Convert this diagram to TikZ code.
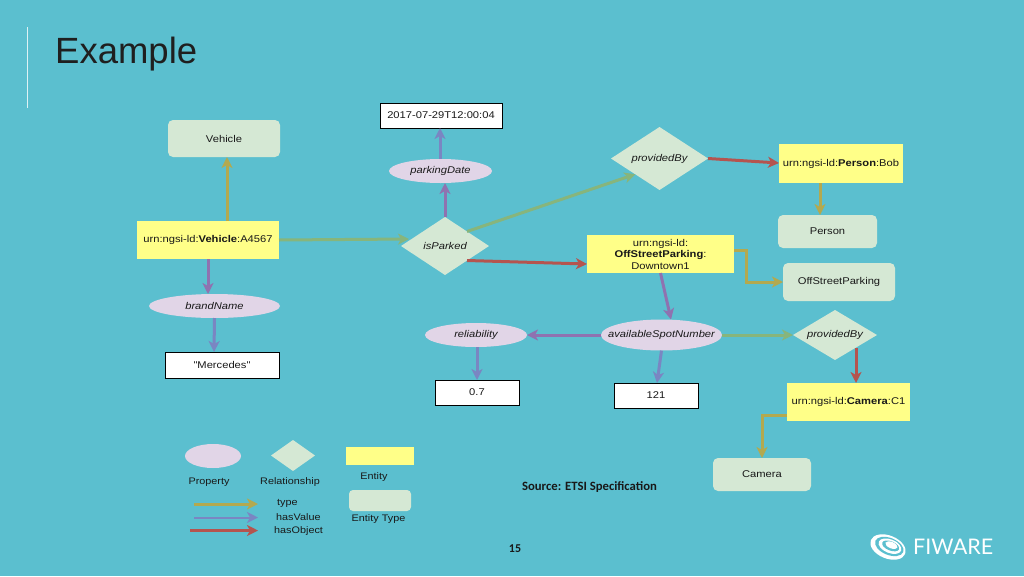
\documentclass[tikz,border=0pt]{standalone}
\usepackage{fontspec}
\setmainfont{Liberation Sans}
\newfontfamily\diag[FakeStretch=1.14]{Liberation Sans}
\newfontfamily\carl{Carlito}
\newfontfamily\logofont{Lato}
\usetikzlibrary{arrows.meta,shapes.geometric}
\definecolor{bg}{HTML}{5BBFCF}
\definecolor{typefill}{HTML}{D5E8D4}
\definecolor{entfill}{HTML}{FFFF88}
\definecolor{propfill}{HTML}{E1D5E7}
\definecolor{oliveline}{HTML}{B3A94F}
\definecolor{valline}{HTML}{7A86C2}
\definecolor{purpline}{HTML}{8F72B0}
\definecolor{redline}{HTML}{B5544F}
\definecolor{greenline}{HTML}{87B57C}
\tikzset{
 base/.style={inner sep=0pt,outer sep=0pt,align=center,font=\diag\fontsize{9.8}{11.5}\selectfont,text=black!90},
 entbox/.style={base,rectangle,fill=entfill},
 typebox/.style={base,rectangle,rounded corners=5pt,fill=typefill},
 valbox/.style={base,rectangle,fill=white,draw=black,line width=0.8pt},
 prop/.style={base,ellipse,fill=propfill,font=\diag\fontsize{9.8}{11.5}\selectfont\itshape},
 rel/.style={base,diamond,fill=typefill,aspect=1.5,font=\diag\fontsize{9.8}{11.5}\selectfont\itshape},
 conn/.style={line width=3pt,-{Stealth[length=11pt,width=11pt,inset=3pt]}},
 tyarr/.style={conn,draw=oliveline},
 valarr/.style={conn,draw=valline},
 purarr/.style={conn,draw=purpline},
 redarr/.style={conn,draw=redline},
 grnarr/.style={conn,draw=greenline},
 legend/.style={inner sep=0pt,font=\diag\fontsize{9.5}{11}\selectfont,text=black!90},
}
\begin{document}
\begin{tikzpicture}[x=1pt,y=-1pt]
\fill[bg] (0,0) rectangle (1024,576);
\useasboundingbox (0,0) rectangle (1024,576);
\draw[white!80!bg,line width=0.8pt] (27,27) -- (27,108);
\node[inner sep=0pt,anchor=base west,font=\fontsize{36.5}{40}\selectfont,text=black!88] (title) at (55,63) {Example};

% entity types
\node[typebox,minimum width=112pt,minimum height=37pt] (vehicle) at (224,138.5) {Vehicle};
\node[typebox,minimum width=99pt,minimum height=33pt] (persont) at (827.5,231.5) {Person};
\node[typebox,minimum width=112pt,minimum height=38pt] (offt) at (839,282) {OffStreetParking};
\node[typebox,minimum width=98pt,minimum height=33pt] (camt) at (762,474.5) {Camera};
% entities
\node[entbox,minimum width=142pt,minimum height=38pt] (veh) at (208,240) {urn:ngsi-ld:\textbf{Vehicle}:A4567};
\node[entbox,minimum width=124pt,minimum height=39pt] (person) at (841,163.5) {urn:ngsi-ld:\textbf{Person}:Bob};
\node[entbox,minimum width=147pt,minimum height=38pt] (off) at (660.5,254) {urn:ngsi-ld:\\\textbf{OffStreetParking}:\\Downtown1};
\node[entbox,minimum width=123pt,minimum height=38pt] (cam) at (848.5,402) {urn:ngsi-ld:\textbf{Camera}:C1};
% properties
\node[prop,minimum width=131pt,minimum height=24pt] (brand) at (214.5,306) {brandName};
\node[prop,minimum width=103pt,minimum height=24pt] (pdate) at (440.5,171) {parkingDate};
\node[prop,minimum width=121pt,minimum height=31pt] (spot) at (661.5,335) {\makebox[0pt]{availableSpotNumber}};
\node[prop,minimum width=102pt,minimum height=24pt] (relia) at (476,335) {reliability};
% relationships
\node[rel,minimum width=88pt,minimum height=58pt] (isp) at (445,246) {isParked};
\node[rel,minimum width=97pt,minimum height=63pt] (prov) at (659.5,158.5) {providedBy};
\node[rel,minimum width=84pt,minimum height=50pt] (provb) at (835,335) {providedBy};
% values
\node[valbox,minimum width=114pt,minimum height=26pt] (merc) at (222,365) {"Mercedes"};
\node[valbox,minimum width=122pt,minimum height=25pt] (date) at (441,115.5) {2017-07-29T12:00:04};
\node[valbox,minimum width=84pt,minimum height=25pt] (v07) at (477,392.5) {0.7};
\node[valbox,minimum width=84pt,minimum height=25pt] (v121) at (656,395.5) {121};

% connectors
\draw[tyarr] ([xshift=19pt]veh.north) -- ([xshift=3pt]vehicle.south);
\draw[purarr] (veh.south) -- ([xshift=-6.5pt]brand.north);
\draw[valarr] (brand.south) -- ([xshift=-8pt]merc.north);
\draw[grnarr] (veh.east) -- ([xshift=8pt,yshift=7pt]isp.west);
\draw[purarr] (isp.north) -- ([xshift=4.5pt]pdate.south);
\draw[valarr] ([xshift=-0.5pt]pdate.north) -- ([xshift=-1pt]date.south);
\draw[grnarr] (isp.north east) -- (prov.south west);
\draw[redarr] (isp.south east) -- ([yshift=-10pt]off.west);
\draw[redarr] (prov.east) -- ([yshift=0.5pt]person.west);
\draw[tyarr] ([xshift=-21pt]person.south) -- ([xshift=-7.5pt]persont.north);
\draw[tyarr] ([yshift=4pt]off.east) -- ++(12,0) |- (offt.west);
\draw[purarr] (off.south) -- ([xshift=9.5pt]spot.north);
\draw[purarr] (spot.west) -- (relia.east);
\draw[valarr] ([xshift=1pt]relia.south) -- (v07.north);
\draw[valarr] (spot.south) -- ([xshift=1pt]v121.north);
\draw[grnarr] (spot.east) -- (provb.west);
\draw[redarr] ([xshift=21pt,yshift=-13pt]provb.center) -- ([xshift=7.5pt]cam.north);
\draw[tyarr] ([yshift=-13pt]cam.west) -| (camt.north);

% legend
\node[base,ellipse,fill=propfill,minimum width=56pt,minimum height=24pt] (lgprop) at (213,456) {};
\node[base,diamond,fill=typefill,minimum width=44pt,minimum height=31pt] (lgrel) at (293,455.5) {};
\node[base,rectangle,fill=entfill,minimum width=68pt,minimum height=18pt] (lgent) at (380,456) {};
\node[base,rectangle,rounded corners=4pt,fill=typefill,minimum width=62pt,minimum height=21pt] (lgtype) at (380,500.5) {};
\node[legend] (t1) at (209,482.5) {Property};
\node[legend] (t2) at (290,482.5) {Relationship};
\node[legend] (t3) at (374,477.5) {Entity};
\node[legend] (t4) at (378.5,519) {Entity Type};
\node[legend,anchor=west] (t5) at (277,503) {type};
\node[legend,anchor=west] (t6) at (276,517) {hasValue};
\node[legend,anchor=west] (t7) at (274,531) {hasObject};
\coordinate (a1) at (194,504); \coordinate (a2) at (258,504);
\coordinate (b1) at (194,517.5); \coordinate (b2) at (258,517.5);
\coordinate (c1) at (190,530.5); \coordinate (c2) at (258,530.5);
\draw[tyarr] (a1) -- (a2);
\draw[valarr,line width=2pt] (b1) -- (b2);
\draw[redarr,line width=2.5pt] (c1) -- (c2);

\node[inner sep=0pt,font=\carl\bfseries\fontsize{12.7}{14}\selectfont,text=black!90] (src) at (589.5,487) {Source: ETSI Specification};
\node[inner sep=0pt,font=\carl\bfseries\fontsize{12}{14}\selectfont,text=black!90] (pg) at (515,549) {15};

% logo
\begin{scope}[shift={(888,547)},rotate=-22]
\fill[white] (0,0) ellipse (18.5 and 11.5);
\fill[bg] (1,-1) ellipse (15 and 8.5);
\fill[white] (1.5,-1.5) ellipse (12 and 6.8);
\fill[bg] (2,-2) ellipse (9 and 4.6);
\fill[white] (2.5,-3) ellipse (6.5 and 3.2);
\end{scope}
\node[inner sep=0pt,anchor=base west,font=\logofont\fontsize{21.5}{24}\selectfont,text=white] (logo) at (913,554.5) {FIWARE};
\end{tikzpicture}
\end{document}
